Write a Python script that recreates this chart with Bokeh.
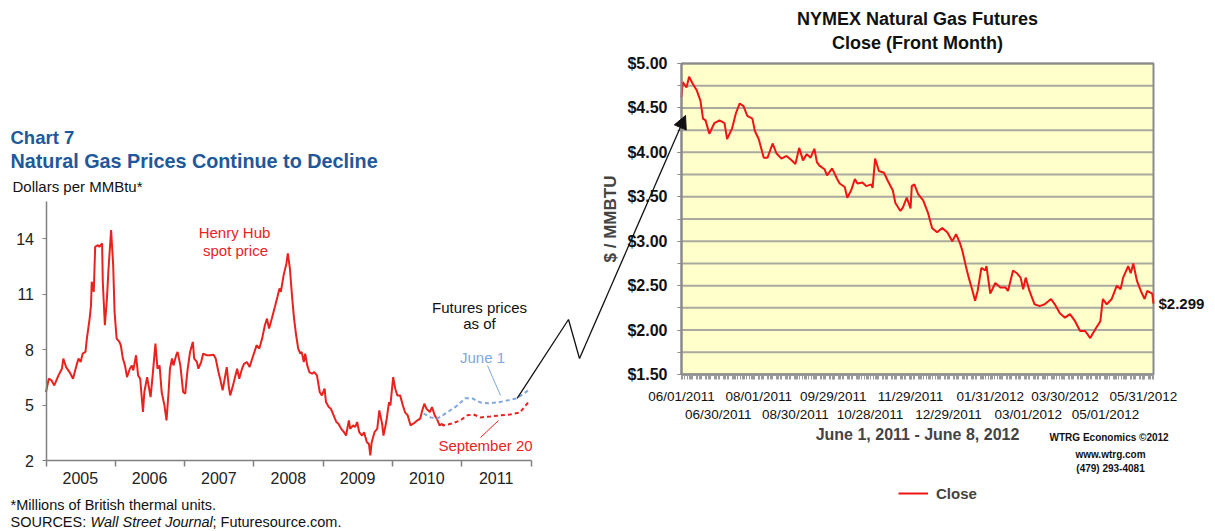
from datetime import datetime
import numpy as np
import pandas as pd
from bokeh.plotting import figure
from bokeh.models import (Range1d, FixedTicker, DatetimeAxis, LinearAxis, DatetimeTickFormatter, Label,
                          Arrow, NormalHead, Legend, LegendItem, NumeralTickFormatter,
                          SingleIntervalTicker)
from bokeh.embed import file_html
from bokeh.resources import INLINE

FONT = "Liberation Sans"
RED_A = "#e8231f"
RED_B = "#f01414"
BLUE = "#80a8dc"
NAVY = "#21589a"
AXIS_GRAY = "#808080"
FRAME_GRAY = "#8a8a8a"
GRID = "#aaaaa0"
YELLOW = "#ffffcc"

# ---------------- Left chart data (fractional year, $/MMBtu) ----------------
spot_t = [2005.00, 2005.04, 2005.08, 2005.12, 2005.18, 2005.23, 2005.25, 2005.29, 2005.34, 2005.39,
          2005.44, 2005.47, 2005.50, 2005.53, 2005.57, 2005.59, 2005.63, 2005.65, 2005.66, 2005.69,
          2005.71, 2005.75, 2005.77, 2005.81, 2005.82, 2005.85, 2005.88, 2005.90, 2005.94, 2005.97,
          2005.99, 2006.02, 2006.06, 2006.08, 2006.11, 2006.14, 2006.17, 2006.21, 2006.24, 2006.26,
          2006.30, 2006.33, 2006.36, 2006.40, 2006.42, 2006.46, 2006.51, 2006.54, 2006.58, 2006.61,
          2006.64, 2006.67, 2006.71, 2006.74, 2006.77, 2006.79, 2006.82, 2006.84, 2006.88, 2006.90,
          2006.94, 2006.98, 2007.01, 2007.04, 2007.08, 2007.12, 2007.14, 2007.18, 2007.20, 2007.24,
          2007.27, 2007.32, 2007.37, 2007.42, 2007.45, 2007.49, 2007.52, 2007.55, 2007.58, 2007.61,
          2007.64, 2007.66, 2007.70, 2007.73, 2007.76, 2007.79, 2007.83, 2007.86, 2007.90, 2007.94,
          2007.97, 2008.01, 2008.04, 2008.08, 2008.12, 2008.16, 2008.19, 2008.22, 2008.26, 2008.31,
          2008.34, 2008.37, 2008.39, 2008.43, 2008.47, 2008.49, 2008.52, 2008.55, 2008.58, 2008.61,
          2008.64, 2008.67, 2008.69, 2008.72, 2008.74, 2008.77, 2008.80, 2008.84, 2008.87, 2008.91,
          2008.95, 2008.98, 2009.02, 2009.04, 2009.08, 2009.11, 2009.15, 2009.19, 2009.22, 2009.26,
          2009.30, 2009.33, 2009.37, 2009.39, 2009.43, 2009.46, 2009.49, 2009.52, 2009.56, 2009.59,
          2009.63, 2009.66, 2009.68, 2009.70, 2009.74, 2009.78, 2009.81, 2009.85, 2009.87, 2009.91,
          2009.95, 2009.97, 2010.01, 2010.04, 2010.07, 2010.11, 2010.15, 2010.18, 2010.22, 2010.26,
          2010.30, 2010.33, 2010.36, 2010.40, 2010.43, 2010.46, 2010.49, 2010.54, 2010.57, 2010.61,
          2010.64, 2010.68, 2010.72]
spot_v = [5.70, 6.42, 6.33, 6.06, 6.60, 6.96, 7.51, 7.05, 6.78, 6.42,
          7.14, 7.51, 7.32, 7.78, 7.87, 8.59, 9.67, 10.39, 11.66, 11.12,
          13.55, 13.64, 13.55, 13.73, 11.66, 9.31, 10.75, 12.20, 14.45, 12.56,
          10.03, 8.59, 8.41, 8.23, 7.51, 7.14, 6.51, 6.96, 7.14, 6.87,
          7.69, 6.60, 6.42, 4.62, 5.70, 6.51, 5.43, 6.60, 8.32, 6.96,
          7.14, 5.70, 4.98, 4.17, 5.70, 6.96, 7.51, 7.14, 7.69, 7.87,
          7.14, 5.70, 5.61, 6.78, 7.87, 8.41, 7.51, 7.32, 6.96, 7.32,
          7.78, 7.69, 7.69, 7.72, 7.51, 6.78, 6.33, 5.79, 6.42, 7.05,
          5.97, 5.52, 6.06, 6.51, 6.96, 6.42, 6.96, 7.23, 7.32, 7.05,
          7.42, 7.87, 8.23, 8.05, 8.59, 9.31, 9.67, 9.13, 9.67, 10.39,
          10.84, 11.30, 11.12, 12.02, 12.65, 13.19, 12.38, 10.93, 9.67, 8.77,
          8.05, 7.78, 7.87, 7.32, 7.78, 7.14, 6.78, 6.69, 6.78, 6.60,
          5.70, 5.52, 5.88, 5.16, 4.89, 4.80, 4.44, 4.08, 3.99, 3.71,
          3.53, 3.35, 4.17, 3.71, 3.90, 3.81, 4.08, 3.53, 3.35, 3.53,
          2.99, 2.90, 2.27, 2.99, 3.53, 3.71, 4.71, 3.99, 3.35, 4.08,
          5.16, 4.98, 6.51, 5.88, 5.52, 5.52, 4.98, 4.62, 4.44, 3.90,
          3.99, 4.08, 4.17, 4.26, 4.71, 5.07, 4.80, 4.62, 4.89, 4.44,
          4.26, 3.90, 3.99]

# Futures strip as of June 1, 2010
jun_t = [2010.45, 2010.55, 2010.65, 2010.79, 2010.94, 2011.05, 2011.15, 2011.27, 2011.39,
         2011.52, 2011.66, 2011.80, 2011.96]
jun_v = [4.54, 4.33, 4.27, 4.60, 4.98, 5.36, 5.36, 5.14, 5.09, 5.14, 5.25, 5.36, 5.79]
# Futures strip as of September 20, 2010
sep_t = [2010.72, 2010.73, 2010.86, 2010.98, 2011.08, 2011.17, 2011.27, 2011.41, 2011.56,
         2011.70, 2011.84, 2011.96]
sep_v = [3.99, 3.89, 4.00, 4.17, 4.44, 4.49, 4.33, 4.38, 4.44, 4.49, 4.60, 5.14]

year_labels = [2005, 2006, 2007, 2008, 2009, 2010, 2011]
y_ticks_a = [2, 5, 8, 11, 14]

# ---------------- Right chart data (NYMEX front-month close) ----------------
close_dates = [
    "2011-06-01", "2011-06-02", "2011-06-05", "2011-06-07", "2011-06-10", "2011-06-13", "2011-06-16",
    "2011-06-18", "2011-06-20", "2011-06-23", "2011-06-27", "2011-07-01", "2011-07-05", "2011-07-07",
    "2011-07-11", "2011-07-14", "2011-07-17", "2011-07-20", "2011-07-23", "2011-07-27", "2011-07-29",
    "2011-08-01", "2011-08-05", "2011-08-08", "2011-08-12", "2011-08-15", "2011-08-19", "2011-08-23",
    "2011-08-27", "2011-08-30", "2011-09-02", "2011-09-05", "2011-09-08", "2011-09-11", "2011-09-14",
    "2011-09-16", "2011-09-18", "2011-09-22", "2011-09-24", "2011-09-28", "2011-10-02", "2011-10-04",
    "2011-10-08", "2011-10-10", "2011-10-13", "2011-10-16", "2011-10-18", "2011-10-22", "2011-10-25",
    "2011-10-29", "2011-10-30", "2011-11-01", "2011-11-04", "2011-11-08", "2011-11-11", "2011-11-15",
    "2011-11-17", "2011-11-21", "2011-11-23", "2011-11-26", "2011-11-29", "2011-11-30", "2011-12-02",
    "2011-12-05", "2011-12-09", "2011-12-13", "2011-12-16", "2011-12-20", "2011-12-24", "2011-12-28",
    "2012-01-01", "2012-01-04", "2012-01-07", "2012-01-09", "2012-01-12", "2012-01-14", "2012-01-17",
    "2012-01-19", "2012-01-21", "2012-01-24", "2012-01-27", "2012-01-28", "2012-01-31", "2012-02-04",
    "2012-02-08", "2012-02-12", "2012-02-14", "2012-02-18", "2012-02-21", "2012-02-24", "2012-02-26",
    "2012-02-28", "2012-03-02", "2012-03-06", "2012-03-10", "2012-03-14", "2012-03-19", "2012-03-22",
    "2012-03-26", "2012-03-30", "2012-04-03", "2012-04-07", "2012-04-11", "2012-04-15", "2012-04-19",
    "2012-04-23", "2012-04-27", "2012-04-29", "2012-05-02", "2012-05-06", "2012-05-10", "2012-05-13",
    "2012-05-15", "2012-05-19", "2012-05-21", "2012-05-23", "2012-05-26", "2012-05-29", "2012-06-01",
    "2012-06-03", "2012-06-07", "2012-06-08"]
close_vals = [
    4.62, 4.79, 4.73, 4.85, 4.77, 4.70, 4.58, 4.38, 4.36, 4.21, 4.33, 4.36, 4.33, 4.15,
    4.27, 4.44, 4.55, 4.52, 4.41, 4.38, 4.24, 4.15, 3.94, 3.94, 4.10, 3.99, 3.93, 3.96,
    3.91, 3.87, 4.05, 3.91, 3.98, 3.94, 4.04, 3.89, 3.85, 3.81, 3.74, 3.82, 3.70, 3.65,
    3.61, 3.49, 3.57, 3.70, 3.65, 3.66, 3.62, 3.64, 3.60, 3.93, 3.79, 3.77, 3.68, 3.57,
    3.43, 3.34, 3.38, 3.49, 3.37, 3.62, 3.64, 3.53, 3.46, 3.31, 3.15, 3.10, 3.15, 3.10,
    3.00, 3.08, 2.98, 2.89, 2.70, 2.59, 2.44, 2.33, 2.44, 2.70, 2.67, 2.72, 2.41, 2.53,
    2.48, 2.48, 2.44, 2.67, 2.64, 2.59, 2.46, 2.59, 2.44, 2.29, 2.27, 2.29, 2.35, 2.29,
    2.19, 2.14, 2.18, 2.10, 1.99, 1.99, 1.91, 2.01, 2.10, 2.35, 2.29, 2.35, 2.50, 2.46,
    2.59, 2.72, 2.64, 2.75, 2.55, 2.44, 2.35, 2.44, 2.41, 2.299]
tick_dates_row1 = ["2011-06-01", "2011-08-01", "2011-09-29", "2011-11-29", "2012-01-31", "2012-03-30", "2012-05-31"]
tick_dates_row2 = ["2011-06-30", "2011-08-30", "2011-10-28", "2011-12-29", "2012-03-01", "2012-05-01"]


def ms(d):
    return float(pd.Timestamp(d).value // 10**6)


def yr(t):
    y = int(t)
    a, b = datetime(y, 1, 1), datetime(y + 1, 1, 1)
    return ms(a + (b - a) * (t - y))


# ---------------- one canvas; each chart gets its own scales placed on it ----------------
W, H = 1213, 529
A_X0, A_X1 = ms(datetime(2005, 1, 1)), ms(datetime(2012, 1, 1))
B_X0, B_X1 = ms(datetime(2011, 6, 1)), ms(datetime(2012, 6, 8))
A_BOX = (45.5, 530.5, 460.0, 201.0)   # left, right, bottom, top (page px)
B_BOX = (681.0, 1153.0, 374.0, 63.0)
A_Y = (2.0, 16.0)
B_Y = (1.5, 5.0)


def x_range_for(v0, v1, box):
    k = (v1 - v0) / (box[1] - box[0])
    return Range1d(start=v0 - box[0] * k, end=v0 + (W - box[0]) * k)


def y_range_for(v0, v1, box):
    k = (v1 - v0) / (box[2] - box[3])          # value per px, upward
    return Range1d(start=v0 - (H - box[2]) * k, end=v0 + box[2] * k)


def to_page(xv, yv, xs, ys, box):
    px = box[0] + (xv - xs[0]) / (xs[1] - xs[0]) * (box[1] - box[0])
    py = box[2] - (yv - ys[0]) / (ys[1] - ys[0]) * (box[2] - box[3])
    return px, py


p = figure(width=W, height=H, x_range=Range1d(0, W), y_range=Range1d(H, 0),
           x_axis_location=None, y_axis_location=None, output_backend="svg",
           toolbar_location=None, min_border=0)
p.outline_line_color = None
p.xgrid.visible = False
p.ygrid.visible = False
p.extra_x_ranges = {"ax": x_range_for(A_X0, A_X1, A_BOX), "bx": x_range_for(B_X0, B_X1, B_BOX)}
p.extra_y_ranges = {"ay": y_range_for(*A_Y, A_BOX), "by": y_range_for(*B_Y, B_BOX)}
AK = dict(x_range_name="ax", y_range_name="ay")
BK = dict(x_range_name="bx", y_range_name="by")

# ---------------- chart A ----------------
p.line([yr(t) for t in spot_t], spot_v, color=RED_A, line_width=2, **AK)
p.line([yr(t) for t in jun_t], jun_v, color=BLUE, line_width=2, line_dash="4 3", **AK)
p.line([yr(t) for t in sep_t], sep_v, color=RED_A, line_width=2, line_dash="4 3", **AK)

ya = LinearAxis(fixed_location=A_X0, bounds=A_Y, ticker=FixedTicker(ticks=y_ticks_a), **AK)
ya.axis_line_color = AXIS_GRAY
ya.axis_line_width = 1.5
ya.major_tick_line_color = AXIS_GRAY
ya.major_tick_in = 0
ya.major_tick_out = 4
ya.minor_tick_line_color = None
ya.major_label_standoff = 8
ya.major_label_text_font = FONT
ya.major_label_text_font_size = "16px"
ya.major_label_text_color = "#222222"
p.add_layout(ya, "left")

yfmt = "%Y"
xa = DatetimeAxis(fixed_location=A_Y[0], bounds=(A_X0, A_X1),
                  ticker=FixedTicker(ticks=[ms(datetime(y, 7, 1)) for y in year_labels],
                                     minor_ticks=[ms(datetime(y, 1, 1)) for y in year_labels + [2012]]),
                  formatter=DatetimeTickFormatter(years=yfmt, months=yfmt, days=yfmt, hours=yfmt,
                                                  minutes=yfmt),
                  **AK)
xa.axis_line_color = AXIS_GRAY
xa.axis_line_width = 1.5
xa.major_tick_line_color = None
xa.major_tick_out = 0
xa.major_tick_in = 0
xa.minor_tick_line_color = AXIS_GRAY
xa.minor_tick_line_width = 1.5
xa.minor_tick_in = 0
xa.minor_tick_out = 6
xa.major_label_standoff = 5
xa.major_label_text_font = FONT
xa.major_label_text_font_size = "16px"
xa.major_label_text_color = "#222222"
p.add_layout(xa, "below")


def lab(x, y, text, size, color="#111111", style="normal", align="left"):
    p.add_layout(Label(x=x, y=y, text=text, text_font=FONT, text_font_size=size, text_color=color,
                       text_font_style=style, text_align=align, text_baseline="middle"))


lab(10, 137, "Chart 7", "18.5px", NAVY, "bold")
lab(10, 160, "Natural Gas Prices Continue to Decline", "19.8px", NAVY, "bold")
lab(12, 186, "Dollars per MMBtu*", "15px")
lab(234, 232, "Henry Hub", "15px", RED_A, align="center")
lab(235, 250, "spot price", "15px", RED_A, align="center")
lab(479, 307, "Futures prices", "15px", align="center")
lab(479, 323, "as of", "15px", align="center")
lab(482, 357, "June 1", "15px", BLUE, align="center")
lab(485, 445, "September 20", "15px", RED_A, align="center")
lab(10, 504, "*Millions of British thermal units.", "14.5px")
lab(10, 521, "SOURCES: ", "14.5px")
lab(90, 521, "Wall Street Journal", "14.5px", style="italic")
lab(212, 521, "; Futuresource.com.", "14.5px")

# leader lines from the labels to the futures curves
p.add_layout(Arrow(end=None, x_start=487, y_start=365, x_end=500, y_end=395, line_color=BLUE, line_width=1))
p.add_layout(Arrow(end=None, x_start=480, y_start=437, x_end=498, y_end=420, line_color=RED_A, line_width=1))

# ---------------- chart B ----------------
p.quad(left=B_X0, right=B_X1, bottom=B_Y[0], top=B_Y[1], fill_color=YELLOW, line_color=None, **BK)
grid_levels = np.arange(B_Y[0], B_Y[1] + 0.001, 0.25)
p.segment(x0=B_X0, x1=B_X1, y0=grid_levels, y1=grid_levels, line_color=GRID, line_width=2, **BK)
p.quad(left=B_X0, right=B_X1, bottom=B_Y[0], top=B_Y[1], fill_color=None, line_color=FRAME_GRAY,
       line_width=2, **BK)
rb = p.line(pd.to_datetime(close_dates), close_vals, color=RED_B, line_width=2, **BK)

yb = LinearAxis(fixed_location=B_X0, bounds=B_Y, ticker=SingleIntervalTicker(interval=0.5, num_minor_ticks=2),
                formatter=NumeralTickFormatter(format="$0.00"), **BK)
yb.axis_line_color = FRAME_GRAY
yb.axis_line_width = 2
yb.major_tick_line_color = FRAME_GRAY
yb.minor_tick_line_color = FRAME_GRAY
yb.major_tick_in = 0
yb.major_tick_out = 4
yb.minor_tick_in = 0
yb.minor_tick_out = 4
yb.major_label_standoff = 10
yb.major_label_text_font = FONT
yb.major_label_text_font_size = "16px"
yb.major_label_text_font_style = "bold"
yb.major_label_text_color = "#111111"
yb.axis_label = "$ / MMBTU"
yb.axis_label_text_font = FONT
yb.axis_label_text_font_size = "17px"
yb.axis_label_text_font_style = "bold"
yb.axis_label_standoff = 4
p.add_layout(yb, "left")

dfmt = "%m/%d/%Y"
fmt_b = DatetimeTickFormatter(days=dfmt, months=dfmt, years=dfmt, hours=dfmt, minutes=dfmt)
trading_days = [ms(d) for d in pd.bdate_range(tick_dates_row1[0], close_dates[-1])]
xb = DatetimeAxis(fixed_location=B_Y[0], bounds=(B_X0, B_X1),
                  ticker=FixedTicker(ticks=[ms(d) for d in tick_dates_row1], minor_ticks=trading_days),
                  formatter=fmt_b, **BK)
xb.axis_line_color = FRAME_GRAY
xb.axis_line_width = 2
xb.major_tick_line_color = "#9a9a9a"
xb.minor_tick_line_color = "#9a9a9a"
xb.major_tick_in = 0
xb.major_tick_out = 5
xb.minor_tick_in = 0
xb.minor_tick_out = 5
xb.major_label_standoff = 9
xb.major_label_text_font = FONT
xb.major_label_text_font_size = "13.5px"
xb.major_label_text_color = "#111111"
p.add_layout(xb, "below")

xb2 = DatetimeAxis(fixed_location=B_Y[0], bounds=(B_X0, B_X1),
                   ticker=FixedTicker(ticks=[ms(d) for d in tick_dates_row2]), formatter=fmt_b,
                   axis_line_color=None, major_tick_line_color=None, minor_tick_line_color=None,
                   major_tick_out=0, major_tick_in=0,
                   major_label_standoff=32, major_label_text_font=FONT, major_label_text_font_size="13.5px",
                   major_label_text_color="#111111",
                   axis_label="June 1, 2011 - June 8, 2012", axis_label_text_font=FONT,
                   axis_label_text_font_size="16px", axis_label_text_font_style="bold",
                   axis_label_standoff=1, **BK)
p.add_layout(xb2, "below")

# last close
yr_b = LinearAxis(fixed_location=B_X1, bounds=B_Y, ticker=FixedTicker(ticks=[close_vals[-1]]),
                  formatter=NumeralTickFormatter(format="$0.000"), axis_line_color=None,
                  major_tick_line_color=None, minor_tick_line_color=None, major_tick_out=0,
                  major_label_standoff=5, major_label_text_font=FONT, major_label_text_font_size="15px",
                  major_label_text_font_style="bold", major_label_text_color="#111111", **BK)
p.add_layout(yr_b, "right")

lab(917, 18, "NYMEX Natural Gas Futures", "18px", style="bold", align="center")
lab(917, 42, "Close (Front Month)", "18px", style="bold", align="center")
lab(1110, 437, "WTRG Economics  \u00a92012", "10px", style="bold", align="center")
lab(1110, 454, "www.wtrg.com", "10px", style="bold", align="center")
lab(1110, 468, "(479) 293-4081", "10px", style="bold", align="center")

legend = Legend(items=[LegendItem(label="Close", renderers=[rb])], location=(898, 26),
                border_line_color=None, background_fill_alpha=0, glyph_width=30, padding=5,
                label_standoff=8,
                label_text_font=FONT, label_text_font_size="15px", label_text_font_style="bold")
p.add_layout(legend)

# ---------------- connecting arrow from the June-1 strip to the NYMEX chart ----------------
sx, sy = to_page(yr(jun_t[11]), jun_v[11], (A_X0, A_X1), A_Y, A_BOX)
bend = [(sx, sy), (568, 319), (579, 358), (685, 115)]
p.line([b[0] for b in bend[:3]], [b[1] for b in bend[:3]], color="#111111", line_width=1.3)
p.add_layout(Arrow(end=NormalHead(size=13, fill_color="#111111", line_color="#111111"),
                   x_start=bend[2][0], y_start=bend[2][1], x_end=bend[3][0], y_end=bend[3][1],
                   line_color="#111111", line_width=1.3))

open("out.html", "w").write(file_html(p, INLINE))
